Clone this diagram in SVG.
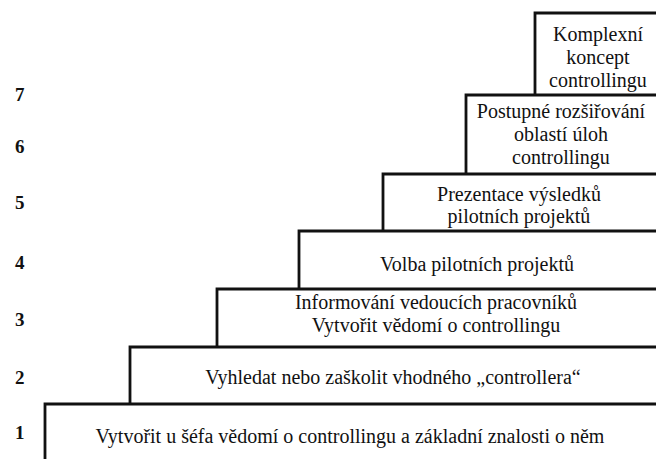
<svg xmlns="http://www.w3.org/2000/svg" width="656" height="459" viewBox="0 0 656 459">
  <style>
    .step { fill: none; stroke: #111; stroke-width: 2.8; }
    .lbl { font-family: "Liberation Serif", "DejaVu Serif", serif; font-size: 20px; fill: #111; text-anchor: middle; }
    .num { font-family: "Liberation Serif", "DejaVu Serif", serif; font-size: 19px; font-weight: bold; fill: #111; }
  </style>
  <rect width="656" height="459" fill="#fff"/>

  <!-- level numbers -->
  <g id="levels">
    <text class="num" x="15" y="101">7</text>
    <text class="num" x="15" y="153">6</text>
    <text class="num" x="15" y="209">5</text>
    <text class="num" x="15" y="269">4</text>
    <text class="num" x="15" y="326">3</text>
    <text class="num" x="15" y="384">2</text>
    <text class="num" x="15" y="439">1</text>
  </g>

  <!-- staircase steps, each open to the right edge -->
  <g id="step1">
    <path class="step" d="M45,459 V404 H656"/>
    <text class="lbl" x="350" y="443">Vytvořit u šéfa vědomí o controllingu a základní znalosti o něm</text>
  </g>
  <g id="step2">
    <path class="step" d="M130,404 V347 H656"/>
    <text class="lbl" x="393" y="384">Vyhledat nebo zaškolit vhodného „controllera“</text>
  </g>
  <g id="step3">
    <path class="step" d="M217,347 V289 H656"/>
    <text class="lbl" x="436" y="309">Informování vedoucích pracovníků</text>
    <text class="lbl" x="436" y="332">Vytvořit vědomí o controllingu</text>
  </g>
  <g id="step4">
    <path class="step" d="M299,289 V231 H656"/>
    <text class="lbl" x="477" y="271">Volba pilotních projektů</text>
  </g>
  <g id="step5">
    <path class="step" d="M383,231 V174 H656"/>
    <text class="lbl" x="519" y="201">Prezentace výsledků</text>
    <text class="lbl" x="519" y="223">pilotních projektů</text>
  </g>
  <g id="step6">
    <path class="step" d="M466,174 V95 H656"/>
    <text class="lbl" x="561" y="118">Postupné rozšiřování</text>
    <text class="lbl" x="561" y="141">oblastí úloh</text>
    <text class="lbl" x="561" y="164">controllingu</text>
  </g>
  <g id="step7">
    <path class="step" d="M535,95 V13 H656"/>
    <text class="lbl" x="598" y="41">Komplexní</text>
    <text class="lbl" x="598" y="64">koncept</text>
    <text class="lbl" x="598" y="87">controllingu</text>
  </g>
</svg>
